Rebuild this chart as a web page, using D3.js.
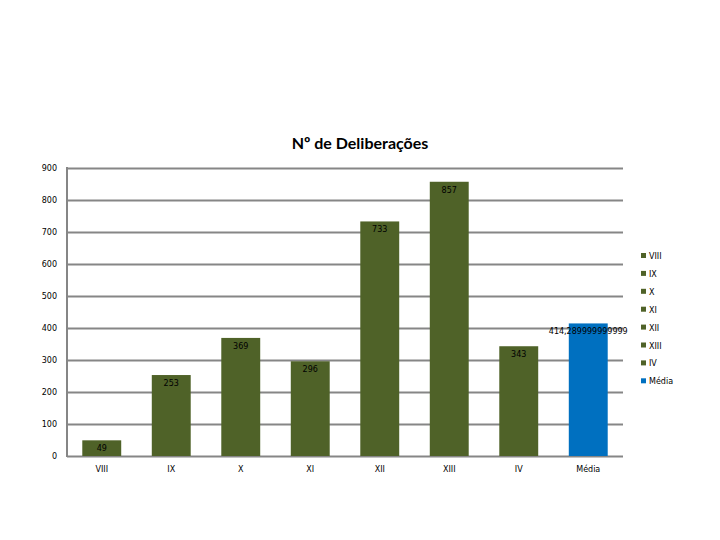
<!DOCTYPE html>
<html><head><meta charset="utf-8">
<script src="https://cdn.jsdelivr.net/npm/d3@7"></script>
<style>body{margin:0;background:#fff}</style>
</head><body>
<script>
const categories = ["VIII","IX","X","XI","XII","XIII","IV","Média"];
const values = [49, 253, 369, 296, 733, 857, 343, 414.289999999999];
const valueLabels = ["49","253","369","296","733","857","343","414,289999999999"];
const yTicks = [0,100,200,300,400,500,600,700,800,900];
const colors = ["#4F6228","#4F6228","#4F6228","#4F6228","#4F6228","#4F6228","#4F6228","#0070C0"];
const title = "Nº de Deliberações";

const W=720,H=540;
const svg=d3.select("body").append("svg").attr("width",W).attr("height",H);
const m={l:67,r:623,t:168,b:456};
const x=d3.scaleBand().domain(categories).range([m.l,m.r]).paddingInner(0.44).paddingOuter(0.22);
const y=d3.scaleLinear().domain([0,900]).range([m.b,m.t]);

svg.append("text").attr("x",360).attr("y",149).attr("text-anchor","middle")
 .attr("font-family","Lato, 'Open Sans', sans-serif").attr("font-weight","bold").attr("font-size",16)
 .attr("fill","#000").text(title);

// gridlines
const yAxis=d3.axisLeft(y).tickValues(yTicks).tickSize(-(m.r-m.l)).tickPadding(10).tickFormat(d3.format("d"));
const ga=svg.append("g").attr("transform",`translate(${m.l},0)`).call(yAxis);
ga.select(".domain").remove();
ga.selectAll(".tick line").attr("stroke","#868686").attr("stroke-width",2);
ga.selectAll(".tick text").attr("font-family","'DejaVu Sans', Verdana, sans-serif").attr("font-size",8).attr("fill","#000");
svg.append("line").attr("x1",m.l).attr("x2",m.l).attr("y1",m.t-1).attr("y2",m.b+1).attr("stroke","#868686").attr("stroke-width",2);

// bars
svg.selectAll("rect.bar").data(categories).enter().append("rect").attr("class","bar")
 .attr("x",d=>x(d)).attr("width",x.bandwidth())
 .attr("y",(d,i)=>y(values[i])).attr("height",(d,i)=>y(0)-y(values[i]))
 .attr("fill",(d,i)=>colors[i]);

// value labels
svg.selectAll("text.vl").data(categories).enter().append("text").attr("class","vl")
 .attr("x",d=>x(d)+x.bandwidth()/2).attr("y",(d,i)=>y(values[i])+11)
 .attr("text-anchor","middle").attr("font-family","'DejaVu Sans', Verdana, sans-serif").attr("font-size",8)
 .attr("fill","#000").text((d,i)=>valueLabels[i]);

// x axis labels
const xa=d3.axisBottom(x).tickSize(0).tickPadding(10);
const gx=svg.append("g").attr("transform",`translate(0,${m.b})`).call(xa);
gx.select(".domain").remove();
gx.selectAll(".tick text").attr("font-family","'DejaVu Sans', Verdana, sans-serif").attr("font-size",8).attr("fill","#000");

// legend
const lg=svg.append("g");
categories.forEach((c,i)=>{
  const yy=256+i*17.9;
  lg.append("rect").attr("x",641).attr("y",yy-3).attr("width",5).attr("height",5).attr("fill",colors[i]);
  lg.append("text").attr("x",649).attr("y",yy+3).attr("font-family","'DejaVu Sans', Verdana, sans-serif").attr("font-size",8).attr("fill","#000").text(c);
});
</script>
</body></html>
